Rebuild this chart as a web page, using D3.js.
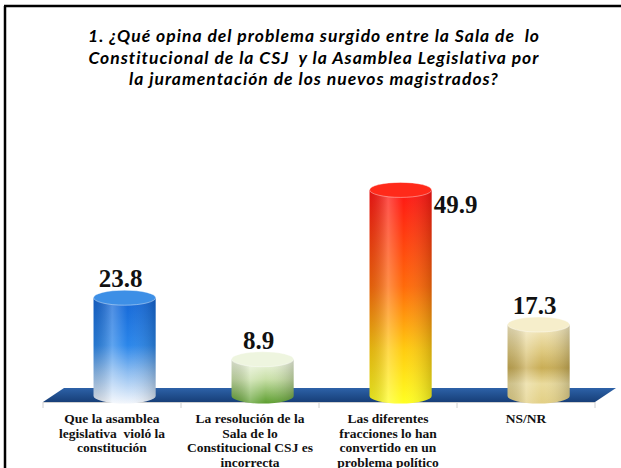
<!DOCTYPE html>
<html>
<head>
<meta charset="utf-8">
<script src="https://cdn.jsdelivr.net/npm/d3@7"></script>
<style>
  body { margin: 0; background: #fff; }
  svg { display: block; }
</style>
</head>
<body>
<div id="chart-area"></div>
<script>
// chart data
let categories = [
    ["Que la asamblea", "legislativa  violó la", "constitución"],
    ["La resolución de la", "Sala de lo", "Constitucional CSJ es", "incorrecta"],
    ["Las diferentes", "fracciones lo han", "convertido en un", "problema político"],
    ["NS/NR"]
];
let values = [23.8, 8.9, 49.9, 17.3];
let titleLines = [
    "1. ¿Qué opina del problema surgido entre la Sala de  lo",
    "Constitucional de la CSJ  y la Asamblea Legislativa por",
    "la juramentación de los nuevos magistrados?"
];

// bar colours (top -> bottom) and cap colours
let barStops = [
    [["0%", "#1466d6"], ["45%", "#2a86ea"], ["70%", "#8cbcf0"], ["100%", "#f2f6fc"]],
    [["0%", "#f2f7e6"], ["45%", "#c9e0a8"], ["100%", "#5c9e2e"]],
    [["0%", "#ff1414"], ["45%", "#ff6a0a"], ["75%", "#ffcc10"], ["100%", "#ffff22"]],
    [["0%", "#f6ecc4"], ["35%", "#ddc77c"], ["55%", "#c9ad55"], ["75%", "#eadb9c"], ["100%", "#e2cf84"]]
];
let capColors = ["#3d8fe6", "#eef5df", "#ff2a1a", "#f6eecb"];

let W = 621, H = 468;

let svg = d3.select("#chart-area").append("svg")
    .attr("width", W)
    .attr("height", H);

let defs = svg.append("defs");

// frame (left and top border)
svg.append("line").attr("x1", 5).attr("y1", 6).attr("x2", 5).attr("y2", H)
    .attr("stroke", "#000").attr("stroke-width", 2.5);
svg.append("line").attr("x1", 4).attr("y1", 6).attr("x2", W).attr("y2", 6)
    .attr("stroke", "#000").attr("stroke-width", 2.5);

// title
let title = svg.append("g");
let titleTexts = titleLines.map(function (t, i) {
    return title.append("text")
        .attr("x", 314)
        .attr("y", 42 + i * 21.5)
        .attr("text-anchor", "middle")
        .attr("xml:space", "preserve")
        .style("white-space", "pre")
        .style("font-family", "Lato, 'Open Sans', sans-serif")
        .style("font-style", "italic")
        .style("font-weight", "bold")
        .style("font-size", "17.5px")
        .attr("fill", "#000")
        .text(t);
});
// widen with letter spacing so the first line matches the original width
let w0 = titleTexts[0].node().getComputedTextLength();
let ls = (452 - w0) / titleLines[0].length;
titleTexts.forEach(t => t.style("letter-spacing", ls + "px"));

// scales
let x = d3.scaleBand()
    .domain(d3.range(values.length))
    .range([43, 595])
    .padding(0);

let y = d3.scaleLinear()
    .domain([0, 60])
    .range([396, 396 - 4.13 * 60]);

let depthX = 21, depthY = 14;
let floorY = 402;

// floor
let floorGrad = defs.append("linearGradient").attr("id", "floor")
    .attr("x1", 0).attr("y1", 0).attr("x2", 0).attr("y2", 1);
floorGrad.append("stop").attr("offset", "0%").attr("stop-color", "#2d62a8");
floorGrad.append("stop").attr("offset", "100%").attr("stop-color", "#173f78");

let x0 = x.range()[0], x1 = x.range()[1];
svg.append("path")
    .attr("d", "M" + x0 + "," + floorY +
        " L" + x1 + "," + floorY +
        " L" + (x1 + depthX) + "," + (floorY - depthY) +
        " L" + (x0 + depthX) + "," + (floorY - depthY) + " Z")
    .attr("fill", "url(#floor)");

// axis line and ticks
svg.append("line")
    .attr("x1", x0).attr("x2", x1)
    .attr("y1", floorY + 0.5).attr("y2", floorY + 0.5)
    .attr("stroke", "#d0d0d0").attr("stroke-width", 1);
let tickPos = d3.range(values.length + 1).map(i => x0 + i * x.bandwidth());
svg.selectAll(".tick-mark").data(tickPos).enter().append("line")
    .attr("class", "tick-mark")
    .attr("x1", d => d).attr("x2", d => d)
    .attr("y1", floorY).attr("y2", floorY + 6)
    .attr("stroke", "#d0d0d0");

// gradients for bars
barStops.forEach(function (stops, i) {
    let g = defs.append("linearGradient").attr("id", "bar" + i)
        .attr("x1", 0).attr("y1", 0).attr("x2", 0).attr("y2", 1);
    stops.forEach(s => g.append("stop").attr("offset", s[0]).attr("stop-color", s[1]));
});
let shade = defs.append("linearGradient").attr("id", "shade")
    .attr("x1", 0).attr("y1", 0).attr("x2", 1).attr("y2", 0);
shade.append("stop").attr("offset", "0%").attr("stop-color", "#000").attr("stop-opacity", 0.12);
shade.append("stop").attr("offset", "30%").attr("stop-color", "#fff").attr("stop-opacity", 0.25);
shade.append("stop").attr("offset", "55%").attr("stop-color", "#fff").attr("stop-opacity", 0.0);
shade.append("stop").attr("offset", "100%").attr("stop-color", "#000").attr("stop-opacity", 0.18);

let barW = x.bandwidth() * 0.45;
let rx = barW / 2, ry = 7.5;
let cx = i => x(i) + x.bandwidth() / 2 + depthX * 0.6;

function bodyPath(i, v) {
    let l = cx(i) - rx, r = cx(i) + rx, yt = y(v), yb = y(0);
    return "M" + l + "," + yt + " L" + l + "," + yb +
        " A" + rx + "," + ry + " 0 0 0 " + r + "," + yb +
        " L" + r + "," + yt + " Z";
}

let bars = svg.selectAll(".bar").data(values).enter().append("g").attr("class", "bar");

bars.append("path")
    .attr("d", (d, i) => bodyPath(i, d))
    .attr("fill", (d, i) => "url(#bar" + i + ")");
bars.append("path")
    .attr("d", (d, i) => bodyPath(i, d))
    .attr("fill", "url(#shade)");
bars.append("ellipse")
    .attr("cx", (d, i) => cx(i))
    .attr("cy", d => y(d))
    .attr("rx", rx)
    .attr("ry", ry)
    .attr("fill", (d, i) => capColors[i])
    .attr("stroke", "#ffffff")
    .attr("stroke-opacity", 0.5)
    .attr("stroke-width", 0.8);

// value labels
let maxV = d3.max(values);
svg.selectAll(".val").data(values).enter().append("text")
    .attr("class", "val")
    .attr("x", (d, i) => d === maxV ? cx(i) + rx + 2 : cx(i) - 4)
    .attr("y", d => d === maxV ? y(d) + 23 : y(d) - ry - 3)
    .attr("text-anchor", d => d === maxV ? "start" : "middle")
    .style("font-family", "'Liberation Serif', serif")
    .style("font-weight", "bold")
    .style("font-size", "25px")
    .attr("fill", "#111")
    .text(d => d.toFixed(1));

// category labels
categories.forEach(function (lines, i) {
    let t = svg.append("text")
        .attr("text-anchor", "middle")
        .attr("xml:space", "preserve")
        .style("white-space", "pre")
        .style("font-family", "'Liberation Serif', serif")
        .style("font-weight", "bold")
        .style("font-size", "13.5px")
        .attr("fill", "#111");
    lines.forEach(function (s, j) {
        t.append("tspan")
            .attr("x", x(i) + x.bandwidth() / 2)
            .attr("y", 423 + j * 14.5)
            .text(s);
    });
});
</script>
</body>
</html>
